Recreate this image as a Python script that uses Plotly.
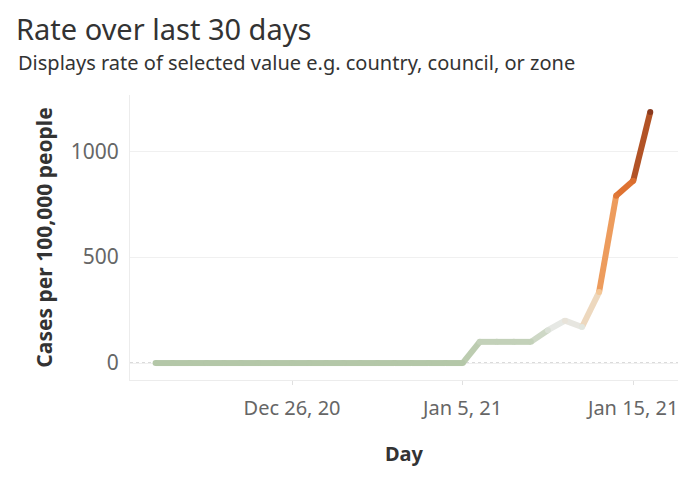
import plotly.graph_objects as go
import pandas as pd
from plotly.colors import sample_colorscale

# ---- data ----
start_date = "2020-12-18"
n_days = 30
rates = [0, 0, 0, 0, 0, 0, 0, 0, 0, 0,
         0, 0, 0, 0, 0, 0, 0, 0, 0,
         100, 100, 100, 100, 155, 200, 170, 335, 790, 860, 1185]
dates = pd.date_range(start_date, periods=n_days, freq="D")
tick_dates = ["2020-12-26", "2021-01-05", "2021-01-15"]
y_ticks = [0, 500, 1000]

# ---- style ----
colorscale = [
    [0.0, "#b4c7a8"],
    [0.09, "#c4d2ba"],
    [0.15, "#e6e8e4"],
    [0.28, "#f4c796"],
    [0.50, "#ec9656"],
    [0.72, "#dc6e2e"],
    [1.0, "#8a3a1f"],
]
vmax = max(rates)
FONT = "Noto Sans"
W, H = 688, 474          # page body has an 8px margin
PL, PR, PT, PB = 122, 18, 87, 102

fig = go.Figure()

# zero reference line (dotted)
fig.add_shape(type="line", xref="paper", yref="y", x0=0, x1=1, y0=0, y1=0,
              line=dict(color="#b8b8b8", width=1.2, dash="dot"), layer="below")

# line drawn segment by segment so its colour follows the value
for i in range(len(rates) - 1):
    mid = (rates[i] + rates[i + 1]) / 2
    col = sample_colorscale(colorscale, [mid / vmax])[0]
    fig.add_trace(go.Scatter(
        x=[dates[i], dates[i + 1]], y=[rates[i], rates[i + 1]],
        mode="lines", line=dict(color=col, width=6), showlegend=False,
        hoverinfo="skip"))

# joint / end caps so the segments join smoothly
fig.add_trace(go.Scatter(
    x=dates, y=rates, mode="markers",
    marker=dict(size=6, color=sample_colorscale(colorscale, [r / vmax for r in rates])),
    showlegend=False, hoverinfo="skip"))

plot_w = W - PL - PR
plot_h = H - PT - PB

fig.update_layout(
    width=W, height=H,
    margin=dict(l=PL, r=PR, t=PT, b=PB),
    paper_bgcolor="white", plot_bgcolor="white",
    font=dict(family=FONT, color="#333333"),
    title=dict(text="Rate over last 30 days", x=8 / W, xanchor="left",
               y=1 - 22 / H, yanchor="middle", yref="container",
               font=dict(size=29, color="#333333", family=FONT)),
    annotations=[dict(
        text="Displays rate of selected value e.g. country, council, or zone",
        xref="paper", yref="paper", x=(8 - PL) / plot_w, y=(H - PB - 54) / plot_h,
        xanchor="left", yanchor="middle", showarrow=False,
        font=dict(size=20, color="#333333", family=FONT))],
)

fig.update_xaxes(
    range=["2020-12-16 12:00", "2021-01-17 15:00"],
    tickvals=pd.to_datetime(tick_dates), tickformat="%b %-d, %y",
    tickfont=dict(size=20, color="#666666"),
    showgrid=False, zeroline=False,
    showline=True, linecolor="#ececec", linewidth=1,
    ticks="outside", ticklen=4, tickcolor="#e0e0e0",
    ticklabelstandoff=6,
    title=dict(text="<b>Day</b>", font=dict(size=20, color="#333333"), standoff=26),
)
fig.update_yaxes(
    range=[-80, 1265],
    tickvals=y_ticks,
    tickfont=dict(size=21, color="#666666"),
    showgrid=True, gridcolor="#f0f0f0", gridwidth=1,
    zeroline=False, showline=True, linecolor="#ececec", linewidth=1,
    ticks="outside", ticklen=6, tickcolor="rgba(0,0,0,0)",
    title=dict(text="<b>Cases per 100,000 people</b>",
               font=dict(size=21, color="#333333"), standoff=12),
)

fig.write_html("out.html")
